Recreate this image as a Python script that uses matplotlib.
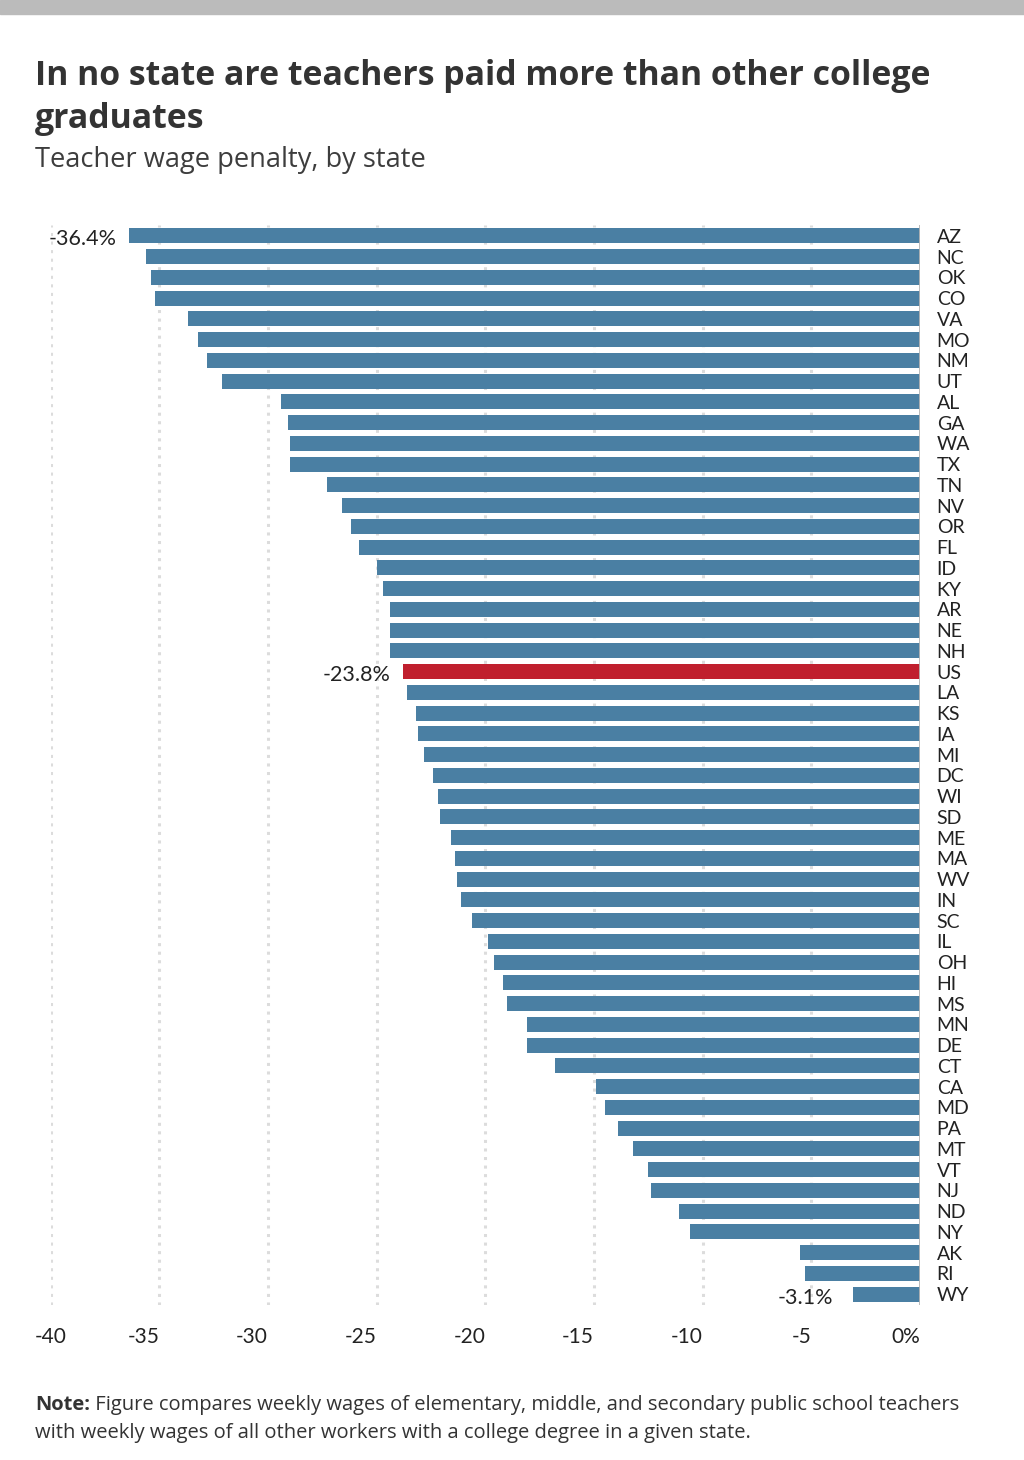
import matplotlib
matplotlib.use("Agg")
import matplotlib.pyplot as plt
import matplotlib.patches as mpatches

plt.rcParams["font.family"] = ["Lato", "DejaVu Sans"]
HEAD_FONT = ["Open Sans", "DejaVu Sans"]

# Teacher wage penalty (%) by state, ordered as in the chart (largest penalty first)
states = [
    "AZ", "NC", "OK", "CO", "VA", "MO", "NM", "UT", "AL", "GA", "WA", "TX", "TN",
    "NV", "OR", "FL", "ID", "KY", "AR", "NE", "NH", "US", "LA", "KS", "IA", "MI",
    "DC", "WI", "SD", "ME", "MA", "WV", "IN", "SC", "IL", "OH", "HI", "MS", "MN",
    "DE", "CT", "CA", "MD", "PA", "MT", "VT", "NJ", "ND", "NY", "AK", "RI", "WY",
]
penalty = [
    -36.4, -35.6, -35.4, -35.2, -33.7, -33.2, -32.8, -32.1, -29.4, -29.1, -29.0, -29.0, -27.3,
    -26.6, -26.2, -25.8, -25.0, -24.7, -24.4, -24.4, -24.4, -23.8, -23.6, -23.2, -23.1, -22.8,
    -22.4, -22.2, -22.1, -21.6, -21.4, -21.3, -21.1, -20.6, -19.9, -19.6, -19.2, -19.0, -18.1,
    -18.1, -16.8, -14.9, -14.5, -13.9, -13.2, -12.5, -12.4, -11.1, -10.6, -5.5, -5.3, -3.1,
]
tick_values = [-40, -35, -30, -25, -20, -15, -10, -5, 0]
tick_labels = ["-40", "-35", "-30", "-25", "-20", "-15", "-10", "-5", "0%"]

BLUE = "#4a7fa3"
RED = "#c01f2e"
TEXT = "#222222"

fig = plt.figure(figsize=(10.24, 14.6), dpi=100)
fig.patch.set_facecolor("white")

# grey strip along the top edge
fig.patches.append(mpatches.Rectangle((0, 1 - 14 / 1460), 1, 14 / 1460,
                                      transform=fig.transFigure, color="#bbbbbb", zorder=0))

ax = fig.add_axes([50.7 / 1024, 1 - 1304.6 / 1460, (920 - 50.7) / 1024, (1304.6 - 225.4) / 1460])

ypos = list(range(len(states)))
colors = [RED if s == "US" else BLUE for s in states]
ax.barh(ypos, penalty, height=0.72, color=colors, zorder=3)

ax.set_xlim(-40, 0)
ax.set_ylim(len(states) - 0.5, -0.5)

# dotted vertical gridlines, solid zero line
for v in tick_values[:-1]:
    ax.axvline(v, color="#dcdcdc", lw=2.2, linestyle=(0, (1, 1.8)), zorder=1)
ax.axvline(0, color="#b5b5b5", lw=1.3, zorder=4)

for side in ["top", "bottom", "left", "right"]:
    ax.spines[side].set_visible(False)

ax.set_xticks(tick_values)
ax.set_xticklabels(tick_labels, fontsize=15, color=TEXT)
for lbl in ax.get_xticklabels():
    lbl.set_ha("right")
ax.get_xticklabels()[0].set_ha("center")
ax.tick_params(axis="x", length=0, pad=16)

ax.yaxis.tick_right()
ax.set_yticks(ypos)
ax.set_yticklabels(states, fontsize=14, color=TEXT)
ax.tick_params(axis="y", length=0, pad=12)

# value labels for the extremes and the US average
for st, pad in [("AZ", 9), ("US", 9), ("WY", 14)]:
    i = states.index(st)
    ax.annotate(f"{penalty[i]:.1f}%", xy=(penalty[i], i), xytext=(-pad, -2.5),
                textcoords="offset points", ha="right", va="center",
                fontsize=15.5, color=TEXT)

# titles
fig.text(35 / 1024, 1 - 85 / 1460, "In no state are teachers paid more than other college",
         fontsize=24.4, fontweight="bold", color="#333333", va="baseline", family=HEAD_FONT)
fig.text(35 / 1024, 1 - 128 / 1460, "graduates",
         fontsize=24.4, fontweight="bold", color="#333333", va="baseline", family=HEAD_FONT)
fig.text(35 / 1024, 1 - 167 / 1460, "Teacher wage penalty, by state",
         fontsize=19.6, color="#3d3d3d", va="baseline", family=HEAD_FONT)

# note with bold lead-in
note_b = fig.text(35 / 1024, 1 - 1410 / 1460, "Note:", fontsize=14.5, fontweight="bold",
                  color="#333333", va="baseline", family=HEAD_FONT)
fig.canvas.draw()
bb = note_b.get_window_extent()
fig.text(bb.x1 / 1024, 1 - 1410 / 1460,
         " Figure compares weekly wages of elementary, middle, and secondary public school teachers",
         fontsize=14.5, color="#333333", va="baseline", family=HEAD_FONT)
fig.text(35 / 1024, 1 - 1438 / 1460,
         "with weekly wages of all other workers with a college degree in a given state.",
         fontsize=14.5, color="#333333", va="baseline", family=HEAD_FONT)

fig.savefig("out.png", dpi=100)
